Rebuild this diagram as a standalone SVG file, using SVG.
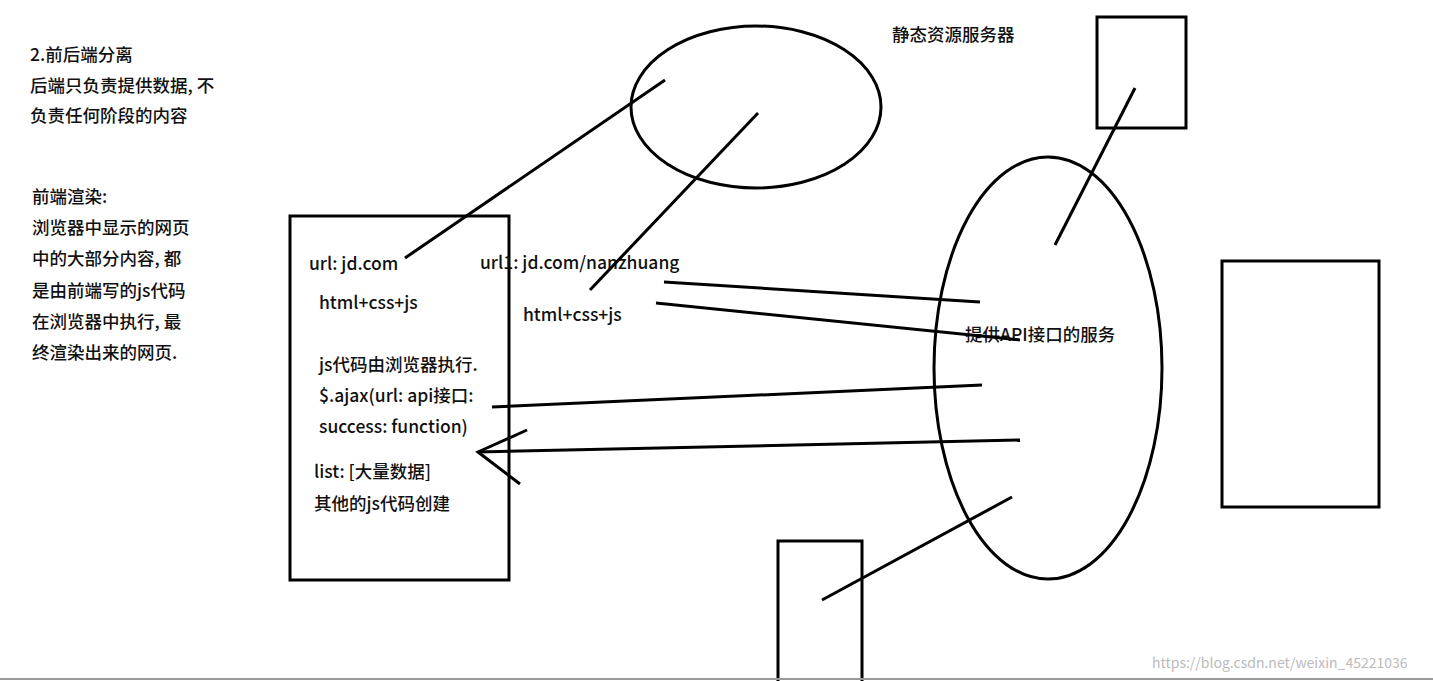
<svg xmlns="http://www.w3.org/2000/svg" width="1433" height="681" viewBox="0 0 1433 681">
<style>
text{font-family:"Noto Sans CJK SC","Liberation Sans",sans-serif;font-size:17.5px;fill:#111;font-weight:500}
.s{fill:none;stroke:#000;stroke-width:3}
.w{font-size:14px;fill:#bbb;font-weight:normal}
</style>
<rect width="1433" height="681" fill="#fff"/>
<g id="notes">
<text x="30" y="61" font-weight="bold">2.前后端分离</text>
<text x="30" y="92">后端只负责提供数据, 不</text>
<text x="30" y="122">负责任何阶段的内容</text>
<text x="32" y="203">前端渲染:</text>
<text x="32" y="234">浏览器中显示的网页</text>
<text x="32" y="265">中的大部分内容, 都</text>
<text x="32" y="297">是由前端写的js代码</text>
<text x="32" y="328">在浏览器中执行, 最</text>
<text x="32" y="359">终渲染出来的网页.</text>
</g>
<g id="browser">
<rect class="s" x="290" y="216" width="219" height="364"/>
<text x="309" y="270">url: jd.com</text>
<text x="319" y="309">html+css+js</text>
<text x="319" y="371">js代码由浏览器执行.</text>
<text x="319" y="402">$.ajax(url: api接口:</text>
<text x="319" y="433">success: function)</text>
<text x="314" y="478">list: [大量数据]</text>
<text x="314" y="510">其他的js代码创建</text>
</g>
<g id="page2">
<text x="480" y="269">url1: jd.com/nanzhuang</text>
<text x="523" y="321">html+css+js</text>
</g>
<g id="topEllipse"><ellipse class="s" cx="756" cy="107" rx="125" ry="81"/></g>
<g id="static"><text x="892" y="41">静态资源服务器</text><rect class="s" x="1097" y="17" width="89" height="111"/></g>
<g id="api"><ellipse class="s" cx="1048" cy="368" rx="114" ry="211"/><text x="965" y="341">提供API接口的服务</text></g>
<g id="rightRect"><rect class="s" x="1222" y="261" width="157" height="246"/></g>
<g id="bottomRect"><rect class="s" x="778" y="541" width="84" height="145"/></g>
<g id="connectors" class="s">
<line x1="405" y1="258" x2="665" y2="80"/>
<line x1="590" y1="290" x2="758" y2="113"/>
<line x1="1055" y1="245" x2="1135" y2="88"/>
<line x1="822" y1="600" x2="1012" y2="497"/>
<line x1="664" y1="282" x2="980" y2="302"/>
<line x1="656" y1="303" x2="1020" y2="340"/>
<line x1="492" y1="407" x2="982" y2="385"/>
<line x1="478" y1="452" x2="1020" y2="440"/>
<polyline points="527,430 478,452 520,484"/>
</g>
<line x1="0" y1="679" x2="1433" y2="679" stroke="#999" stroke-width="2"/>
<text class="w" x="1152" y="668">https://blog.csdn.net/weixin_45221036</text>
</svg>
